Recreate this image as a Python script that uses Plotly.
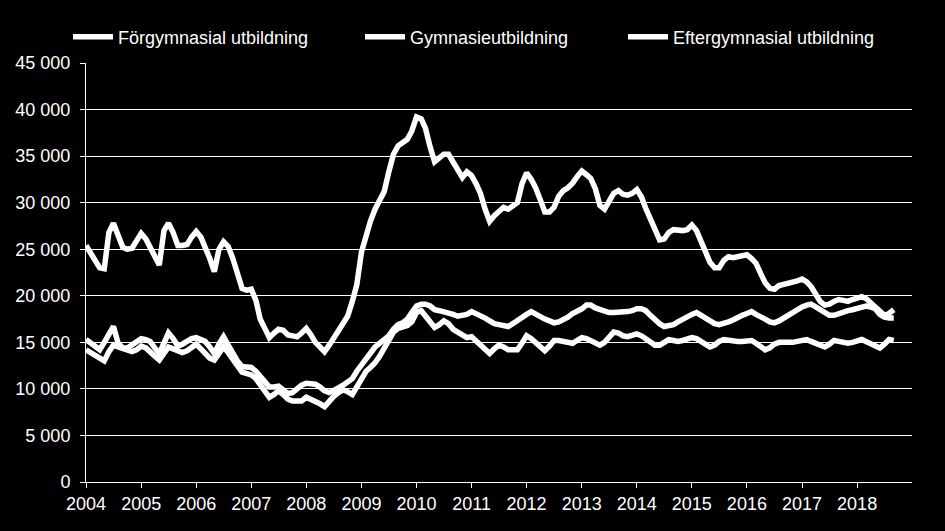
import pandas as pd
import plotly.graph_objects as go

months = pd.date_range("2004-01-01", periods=177, freq="MS")

series_names = ["Förgymnasial utbildning", "Gymnasieutbildning", "Eftergymnasial utbildning"]

# Top line
gymnasie = [
    25400, 24600, 23800, 23000, 22900, 26800, 27800, 26500, 25200, 25000, 25100, 25900,
    26700, 26100, 25200, 24300, 23300, 27000, 27800, 26800, 25400, 25400, 25500, 26300,
    26900, 26300, 25300, 24000, 22600, 25000, 25800, 25300, 24000, 22400, 20800, 20600,
    20700, 19500, 17500, 16500, 15500, 16000, 16400, 16300, 15800, 15700, 15600, 16000,
    16500, 15800, 15000, 14500, 14000, 14700, 15400, 16200, 17000, 17800, 19400, 21200,
    24700, 26500, 28000, 29300, 30100, 31200, 33300, 35200, 36100, 36500, 36800, 37700,
    39200, 39000, 38000, 36000, 34400, 34800, 35200, 35200, 34300, 33400, 32700, 33300,
    32900, 32000, 31000, 29300, 28000, 28600, 29100, 29500, 29300, 29700, 30000, 32000,
    33200, 32500, 31600, 30300, 29000, 29000, 29500, 30700, 31300, 31600, 32100, 32800,
    33400, 33000, 32600, 31500, 29700, 29300, 30300, 31000, 31300, 30900, 30800, 31000,
    31400, 30600, 29400, 28200, 27000, 26000, 26100, 26800, 27100, 27000, 27000, 27100,
    27600, 27000, 26000, 24800, 23600, 23000, 23000, 23800, 24200, 24100, 24200, 24300,
    24400, 24000, 23500, 22400, 21400, 20800, 20700, 21100, 21200, 21300, 21400, 21600,
    21800, 21500, 21000, 20100, 19400, 19000, 19100, 19400, 19600, 19500, 19400, 19600,
    19800, 19900, 19700, 19200, 18800, 18300, 17900, 18100, 18500,
]

# Middle line (later years)
eftergymnasial = [
    15300, 14900, 14500, 14200, 15000, 15900, 16700, 14900, 14400, 14400, 14700, 15100,
    15400, 15300, 15100, 14400, 13800, 14900, 16000, 15400, 14600, 14800, 15100, 15400,
    15500, 15300, 15100, 14500, 13800, 14800, 15600, 14700, 13800, 13000, 12400, 12300,
    12300, 11900, 11400, 10800, 10200, 10200, 10300, 9900, 9500, 9600, 10100, 10400,
    10600, 10600, 10500, 10200, 9800, 9600, 9800, 10100, 10400, 10700, 11100, 11900,
    12600, 13400, 14000, 14500, 14900, 15300, 15700, 16400, 16900, 17100, 17500, 18200,
    18900, 19100, 19100, 18900, 18500, 18400, 18300, 18200, 18000, 17800, 17900, 18000,
    18300, 18100, 17900, 17600, 17300, 17000, 16900, 16800, 16700, 17000, 17400, 17700,
    18000, 18300, 18000, 17700, 17500, 17300, 17100, 17200, 17400, 17700, 18100, 18300,
    18600, 19000, 19000, 18700, 18500, 18300, 18200, 18200, 18200, 18300, 18300, 18400,
    18600, 18600, 18400, 17900, 17400, 17000, 16700, 16800, 16900, 17200, 17500, 17800,
    18000, 18200, 17900, 17600, 17300, 17000, 16900, 17000, 17200, 17400, 17700, 17900,
    18100, 18300, 18000, 17800, 17500, 17200, 17100, 17300, 17600, 17900, 18300, 18600,
    18800, 19000, 19100, 18800, 18500, 18200, 17900, 17900, 18100, 18200, 18400, 18500,
    18600, 18800, 18900, 18800, 18600, 18000, 17700, 17600, 17600,
]

# Lowest line (later years)
forgymnasial = [
    14200, 13900, 13500, 13200, 13000, 14000, 14700, 14500, 14300, 14200, 14000, 14200,
    14600, 14400, 13900, 13500, 13100, 13900, 14500, 14300, 14100, 13900, 14100, 14400,
    14800, 14300, 13800, 13300, 13100, 13900, 14500, 13900, 13300, 12500, 11800, 11600,
    11500, 11100, 10400, 9700, 9100, 9400, 9800, 9400, 8900, 8700, 8700, 8700,
    9100, 8900, 8700, 8400, 8100, 8700, 9200, 9600, 9900, 9700, 9400, 10200,
    11000, 11900, 12300, 12800, 13500, 14400, 15500, 16100, 16500, 16600, 16800, 17200,
    18200, 18400, 17900, 17300, 16600, 16900, 17300, 17000, 16400, 16100, 15700, 15500,
    15600, 15100, 14700, 14200, 13800, 14300, 14700, 14500, 14200, 14200, 14200, 14900,
    15700, 15400, 15000, 14500, 14100, 14600, 15200, 15200, 15100, 15000, 14900, 15200,
    15500, 15400, 15200, 14900, 14700, 15000, 15600, 16100, 16000, 15700, 15600, 15700,
    15900, 15700, 15400, 15000, 14700, 14700, 15000, 15300, 15200, 15100, 15200, 15300,
    15500, 15400, 15100, 14800, 14500, 14700, 15100, 15300, 15200, 15100, 15100, 15100,
    15200, 15200, 14900, 14500, 14200, 14400, 14800, 15000, 15000, 14900, 15000, 15100,
    15200, 15300, 15100, 14900, 14600, 14500, 14800, 15200, 15100, 15000, 14900, 15000,
    15200, 15300, 15100, 14900, 14700, 14400, 14800, 15300, 15200,
]

y_ticks = [0, 5000, 10000, 15000, 20000, 25000, 30000, 35000, 40000, 45000]

FONT = "Liberation Sans, Arial, sans-serif"
W, H = 945, 531
L, R, T, B = 86, 33, 63, 48.5
PW = W - L - R
PH = H - T - B

fig = go.Figure()
values = [forgymnasial, gymnasie, eftergymnasial]
legend_ids = ["legend", "legend2", "legend3"]
for name, vals, lg in zip(series_names, values, legend_ids):
    fig.add_trace(go.Scatter(
        x=months, y=vals, mode="lines", name=name, legend=lg,
        line=dict(color="white", width=5.5),
        hoverinfo="skip",
    ))

legend_px = [68, 360, 623]
leg_common = dict(
    orientation="h", yanchor="middle", y=1 + (T - 37) / PH, xanchor="left",
    font=dict(family=FONT, size=18, color="white"),
    bgcolor="rgba(0,0,0,0)", borderwidth=0, itemwidth=40,
)
legends = {}
for lg, px in zip(legend_ids, legend_px):
    legends[lg] = dict(leg_common, x=(px - L) / PW)

fig.update_layout(
    width=W, height=H,
    paper_bgcolor="black", plot_bgcolor="black",
    margin=dict(l=L, r=R, t=T, b=B, autoexpand=False),
    font=dict(family=FONT, size=18, color="white"),
    separators=", ",
    showlegend=True,
    **legends,
    xaxis=dict(
        type="date",
        range=["2004-01-01", "2018-12-31"],
        dtick="M12", tick0="2004-01-01", tickformat="%Y",
        showgrid=False, showline=True, linecolor="white", linewidth=1,
        ticks="outside", ticklen=5, tickcolor="white", tickwidth=1,
        tickfont=dict(family=FONT, size=18, color="white"),
        zeroline=False, fixedrange=True,
    ),
    yaxis=dict(
        range=[0, 45000], tickvals=y_ticks, tickformat=",d",
        showgrid=True, gridcolor="white", gridwidth=1,
        showline=True, linecolor="white", linewidth=1,
        ticks="outside", ticklen=5, tickcolor="white", tickwidth=1,
        tickfont=dict(family=FONT, size=18, color="white"),
        ticklabelstandoff=6,
        zeroline=False, fixedrange=True,
    ),
)

fig.write_html(
    "out.html",
    config={"displayModeBar": False},
    post_script="document.body.style.margin='0';document.body.style.background='black';",
)
